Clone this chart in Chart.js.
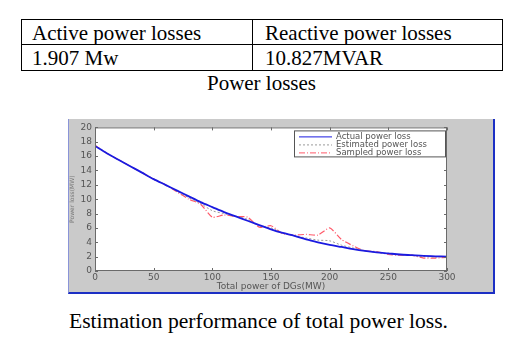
<!DOCTYPE html>
<html>
<head>
<meta charset="utf-8">
<script src="https://cdn.jsdelivr.net/npm/chart.js@4/dist/chart.umd.min.js"></script>
<style>
  body{margin:0;background:#fff;width:519px;height:361px;position:relative;overflow:hidden;font-family:"Liberation Serif","Times New Roman",serif;color:#000}
  .tbl{position:absolute;left:21px;top:19px;width:480px;height:50px;border:1px solid #000}
  .cell{position:absolute;font-size:21px;line-height:24px;white-space:nowrap}
  .hline{position:absolute;left:0;right:0;top:24px;height:1px;background:#000}
  .vline{position:absolute;top:0;bottom:0;left:230px;width:1px;background:#000}
  .cap{position:absolute;left:0;width:519px;text-align:center;font-size:21px;white-space:nowrap}
  #panel{position:absolute;left:68px;top:119px;width:424px;height:173px;background:#cacaca;border-right:2px solid #1c2fc4;border-bottom:2px solid #1c2fc4;border-left:1px solid #8a94d8}
  #panel canvas{position:absolute;left:0;top:0}
</style>
</head>
<body>
<div class="tbl">
  <div class="cell" style="left:10px;top:1px">Active power losses</div>
  <div class="cell" style="left:243px;top:1px">Reactive power losses</div>
  <div class="cell" style="left:10px;top:26px">1.907 Mw</div>
  <div class="cell" style="left:243px;top:26px">10.827MVAR</div>
  <div class="hline"></div>
  <div class="vline"></div>
</div>
<div class="cap" style="top:71px;left:2px">Power losses</div>
<div id="panel"><canvas id="c" width="424" height="173"></canvas></div>
<div class="cap" style="top:309px;left:-1px;font-size:21.6px">Estimation performance of total power loss.</div>
<script>
// DG power (MW) and losses
const dgPower = [0,10,20,30,40,50,60,70,80,90,100,110,120,130,140,150,160,170,180,190,200,210,220,230,240,250,260,270,280,290,300]
const actualLoss = [17.4,16.4,15.5,14.6,13.7,12.8,12.0,11.2,10.4,9.6,8.9,8.2,7.6,7.0,6.4,5.8,5.3,4.9,4.4,4.0,3.65,3.35,3.05,2.8,2.6,2.45,2.3,2.2,2.1,2.05,2.0]
const estimatedLoss = [17.5,16.4,15.5,14.6,13.7,12.8,12.0,11.1,10.2,9.4,8.4,8.0,7.6,7.2,6.3,6.0,5.3,4.9,4.6,4.3,4.2,3.6,3.2,2.8,2.6,2.4,2.3,2.2,2.0,1.95,1.95]
const sampledLoss = [17.5,16.4,15.5,14.6,13.7,12.8,12.0,11.0,10.0,9.3,7.5,7.8,7.6,7.5,6.1,6.3,5.2,5.0,5.1,5.0,6.0,4.4,3.5,2.8,2.7,2.3,2.2,2.2,1.8,1.8,1.9]
const xTicks = [0,50,100,150,200,250,300]
const yTicks = [0,2,4,6,8,10,12,14,16,18,20]

const pts = arr => arr.map((v,i)=> ({x: dgPower[i], y: v}))
const FONT = '"DejaVu Sans", Verdana, sans-serif'
const tickFont = {family: FONT, size:9}

// white plot area, box frame, inward ticks and legend, matlab style
const boxPlugin = {
  id:'box',
  beforeDraw(chart){
    const a = chart.chartArea, ctx = chart.ctx
    ctx.save(); ctx.fillStyle = '#fff'; ctx.fillRect(a.left, a.top, a.right-a.left, a.bottom-a.top); ctx.restore()
  },
  afterDatasetsDraw(chart){
    const a = chart.chartArea, ctx = chart.ctx, sx = chart.scales.x, sy = chart.scales.y
    ctx.save()
    ctx.strokeStyle = '#6a6a6a'; ctx.lineWidth = 1
    ctx.strokeRect(a.left+0.5, a.top+0.5, a.right-a.left-1, a.bottom-a.top-1)
    ctx.beginPath()
    xTicks.forEach(t=>{
      const px = Math.round(sx.getPixelForValue(t))+0.5
      ctx.moveTo(px, a.bottom); ctx.lineTo(px, a.bottom-3)
      ctx.moveTo(px, a.top); ctx.lineTo(px, a.top+3)
    })
    yTicks.forEach(t=>{
      const py = Math.round(sy.getPixelForValue(t))+0.5
      ctx.moveTo(a.left, py); ctx.lineTo(a.left+3, py)
      ctx.moveTo(a.right, py); ctx.lineTo(a.right-3, py)
    })
    ctx.stroke()
    // legend box
    const bw = 152, bh = 27, bx = a.right-bw-1, by = a.top+3
    ctx.fillStyle = '#fff'; ctx.fillRect(bx, by, bw, bh)
    ctx.strokeStyle = '#555'; ctx.strokeRect(bx+0.5, by+0.5, bw-1, bh-1)
    ctx.font = '8.5px ' + FONT; ctx.textBaseline = 'middle'
    chart.data.datasets.forEach((ds,i)=>{
      const y = by + 6 + i*8
      ctx.strokeStyle = ds.borderColor; ctx.lineWidth = 1
      ctx.setLineDash(ds.borderDash || [])
      ctx.beginPath(); ctx.moveTo(bx+5, y+0.5); ctx.lineTo(bx+38, y+0.5); ctx.stroke()
      ctx.setLineDash([])
      ctx.fillStyle = '#555'; ctx.fillText(ds.label, bx+42, y+0.5)
    })
    ctx.restore()
  }
}

new Chart(document.getElementById('c'), {
  type:'line',
  data:{
    datasets:[
      {label:'Actual power loss', data: pts(actualLoss), borderColor:'#1a1ae0', borderWidth:1.8, pointRadius:0, tension:0.3},
      {label:'Estimated power loss', data: pts(estimatedLoss), borderColor:'#9a9a9a', borderWidth:1, borderDash:[2,2], pointRadius:0, tension:0.3},
      {label:'Sampled power loss', data: pts(sampledLoss), borderColor:'#ff5a6a', borderWidth:1.2, borderDash:[6,2,1,2], pointRadius:0, tension:0.2}
    ]
  },
  options:{
    responsive:false, animation:false,
    layout:{padding:{top:6, right:46, left:0, bottom:0}},
    plugins:{legend:{display:false}, tooltip:{enabled:false}},
    scales:{
      x:{type:'linear', min:0, max:300,
        afterBuildTicks: s=>{ s.ticks = xTicks.map(v=>({value:v})) },
        afterFit: s=>{ s.height = 21 },
        grid:{display:false, drawTicks:false}, border:{display:false},
        ticks:{font:tickFont, color:'#555', padding:1, maxRotation:0},
        title:{display:true, text:'Total power of DGs(MW)', font:tickFont, color:'#555', padding:{top:-2,bottom:0}}
      },
      y:{min:0, max:20,
        afterBuildTicks: s=>{ s.ticks = yTicks.map(v=>({value:v})) },
        afterFit: s=>{ s.width = 26 },
        grid:{display:false, drawTicks:false}, border:{display:false},
        ticks:{font:tickFont, color:'#555', padding:3},
        title:{display:true, text:'Power loss(MW)', font:{family:FONT, size:6}, color:'#777', padding:0}
      }
    }
  },
  plugins:[boxPlugin]
})
</script>
</body>
</html>
